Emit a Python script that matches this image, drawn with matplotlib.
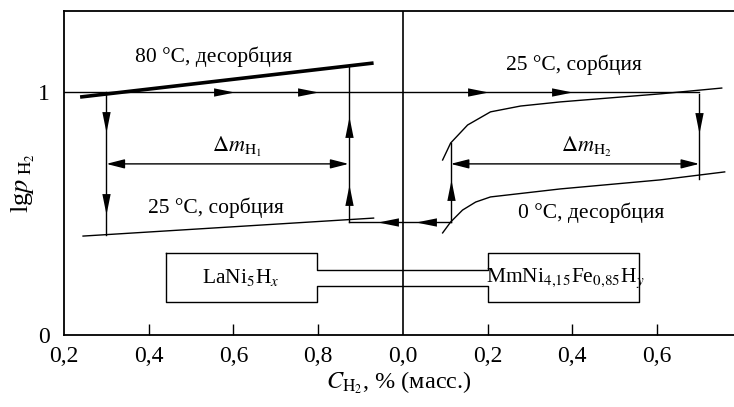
import matplotlib
matplotlib.use('Agg')
import matplotlib.pyplot as plt
from matplotlib.path import Path

plt.rcParams['font.family'] = ['Liberation Serif', 'DejaVu Serif']
plt.rcParams['mathtext.fontset'] = 'stix'

# right panel (MmNi) values are drawn shifted by X0 so both panels share one axis
X0 = 1.0

# LaNi5Hx, left panel
x80 = [0.238, 0.931]
y80 = [0.979, 1.119]
x25L = [0.245, 0.931]
y25L = [0.407, 0.481]

# MmNi4.15Fe0.85Hy, right panel
x25R = [0.094, 0.113, 0.153, 0.207, 0.278, 0.372, 0.607, 0.753]
y25R = [0.720, 0.790, 0.864, 0.918, 0.942, 0.959, 0.992, 1.016]
x0R = [0.094, 0.113, 0.141, 0.172, 0.207, 0.372, 0.607, 0.760]
y0R = [0.420, 0.465, 0.514, 0.547, 0.568, 0.601, 0.638, 0.671]

# cycle path
p_high = 1.0
p_low = 0.465
xa, xb = 0.30, 0.872          # left verticals
xc, xd = 0.113, 0.70          # right verticals
y_dm = 0.704

# arrowheads: x (combined), y, direction
arrows = [
    (0.578, 1.0, 'r'), (0.776, 1.0, 'r'), (X0 + 0.178, 1.0, 'r'), (X0 + 0.376, 1.0, 'r'),
    (xa, 0.877, 'd'), (xa, 0.539, 'd'),
    (xb, 0.856, 'u'), (xb, 0.576, 'u'),
    (0.965, p_low, 'l'), (X0 + 0.055, p_low, 'l'),
    (X0 + xc, 0.597, 'u'),
    (X0 + xd, 0.872, 'd'),
]

xticks = [0.2, 0.4, 0.6, 0.8, 1.0, 1.2, 1.4, 1.6]
xticklabels = ['0,2', '0,4', '0,6', '0,8', '0,0', '0,2', '0,4', '0,6']

# outline of the two alloy boxes joined by a channel
box_x = [0.441, 0.797, 0.797, 1.201, 1.201, 1.558, 1.558, 1.201, 1.201, 0.797, 0.797, 0.441, 0.441]
box_y = [0.337, 0.337, 0.267, 0.267, 0.337, 0.337, 0.136, 0.136, 0.202, 0.202, 0.136, 0.136, 0.337]


def head_marker(d):
    v = [(-1, -0.4), (1, 0), (-1, 0.4), (-1, -0.4)]
    if d == 'l':
        v = [(-a, b) for a, b in v]
    elif d == 'u':
        v = [(b, a) for a, b in v]
    elif d == 'd':
        v = [(b, -a) for a, b in v]
    return Path(v, [Path.MOVETO, Path.LINETO, Path.LINETO, Path.CLOSEPOLY])


fig = plt.figure(figsize=(7.34, 4.07), dpi=100)
ax = fig.add_axes([64 / 734, 1 - 335 / 407, 1 - 64 / 734, (335 - 11) / 407])
ax.set_xlim(0.2, 1.782)
ax.set_ylim(0, 1.333)

k = dict(color='black', lw=1.0)
ax.plot(x80, y80, color='black', lw=2.6, solid_capstyle='butt')
ax.plot(x25L, y25L, **k)
ax.plot([X0 + x for x in x25R], y25R, **k)
ax.plot([X0 + x for x in x0R], y0R, **k)

ax.plot([0.2, X0 + xd], [p_high, p_high], **k)
ax.plot([xa, xa], [p_high, y25L[0] + (xa - x25L[0]) * (y25L[1] - y25L[0]) / (x25L[1] - x25L[0])], **k)
ax.plot([xb, xb], [y80[0] + (xb - x80[0]) * (y80[1] - y80[0]) / (x80[1] - x80[0]), p_low], **k)
ax.plot([xb, X0 + xc], [p_low, p_low], **k)
ax.plot([X0 + xc, X0 + xc], [p_low, 0.79], **k)
ax.plot([X0 + xd, X0 + xd], [0.992, 0.64], **k)
ax.axvline(X0, color='black', lw=1.2)

for x, y, d in arrows:
    ax.plot([x], [y], marker=head_marker(d), ms=15, color='black', mew=0)

ap = dict(arrowstyle='<|-|>,head_length=1.1,head_width=0.28', color='black', lw=1.0,
          shrinkA=0, shrinkB=0)
ax.annotate('', xy=(xa, y_dm), xytext=(xb, y_dm), arrowprops=ap)
ax.annotate('', xy=(X0 + xc, y_dm), xytext=(X0 + xd, y_dm), arrowprops=ap)

ax.plot(box_x, box_y, color='black', lw=1.0)

fs = 15.5
ax.text(0.553, 1.144, '80 °C, десорбция', fontsize=fs, ha='center', va='center')
ax.text(0.559, 0.525, '25 °C, сорбция', fontsize=fs, ha='center', va='center')
ax.text(X0 + 0.405, 1.111, '25 °C, сорбция', fontsize=fs, ha='center', va='center')
ax.text(X0 + 0.445, 0.502, '0 °C, десорбция', fontsize=fs, ha='center', va='center')
ax.text(0.609, 0.774, r'$\Delta m_{\mathrm{H}_1}$', fontsize=16, ha='center', va='center')
ax.text(X0 + 0.434, 0.774, r'$\Delta m_{\mathrm{H}_2}$', fontsize=16, ha='center', va='center')
ax.text(0.618, 0.235, r'LaNi$_5$H$_x$', fontsize=fs, ha='center', va='center')
ax.text(1.383, 0.235, r'MmNi$_{4{,}15}$Fe$_{0{,}85}$H$_y$', fontsize=fs, ha='center', va='center')

for s in ['left', 'bottom', 'top']:
    ax.spines[s].set_linewidth(1.3)
ax.spines['right'].set_visible(False)

ax.set_xticks(xticks)
ax.set_xticklabels(xticklabels)
ax.tick_params(axis='x', direction='in', length=8, width=1.0, labelsize=17, pad=8)
for t in ax.xaxis.get_major_ticks():
    if t.get_loc() in (0.2, 1.0):
        t.tick1line.set_visible(False)
ax.set_yticks([0, 1])
ax.set_yticklabels(['0', '1'])
ax.tick_params(axis='y', length=0, labelsize=17, pad=10)

ax.set_xlabel(r'$C_{\mathrm{H}_2}$, % (масс.)', fontsize=17.5, labelpad=2)
ax.set_ylabel(r'lg$p_{\ \mathrm{H}_2}$', fontsize=19)
ax.yaxis.set_label_coords(-0.04, 0.47)

fig.savefig('out.png', dpi=100)
